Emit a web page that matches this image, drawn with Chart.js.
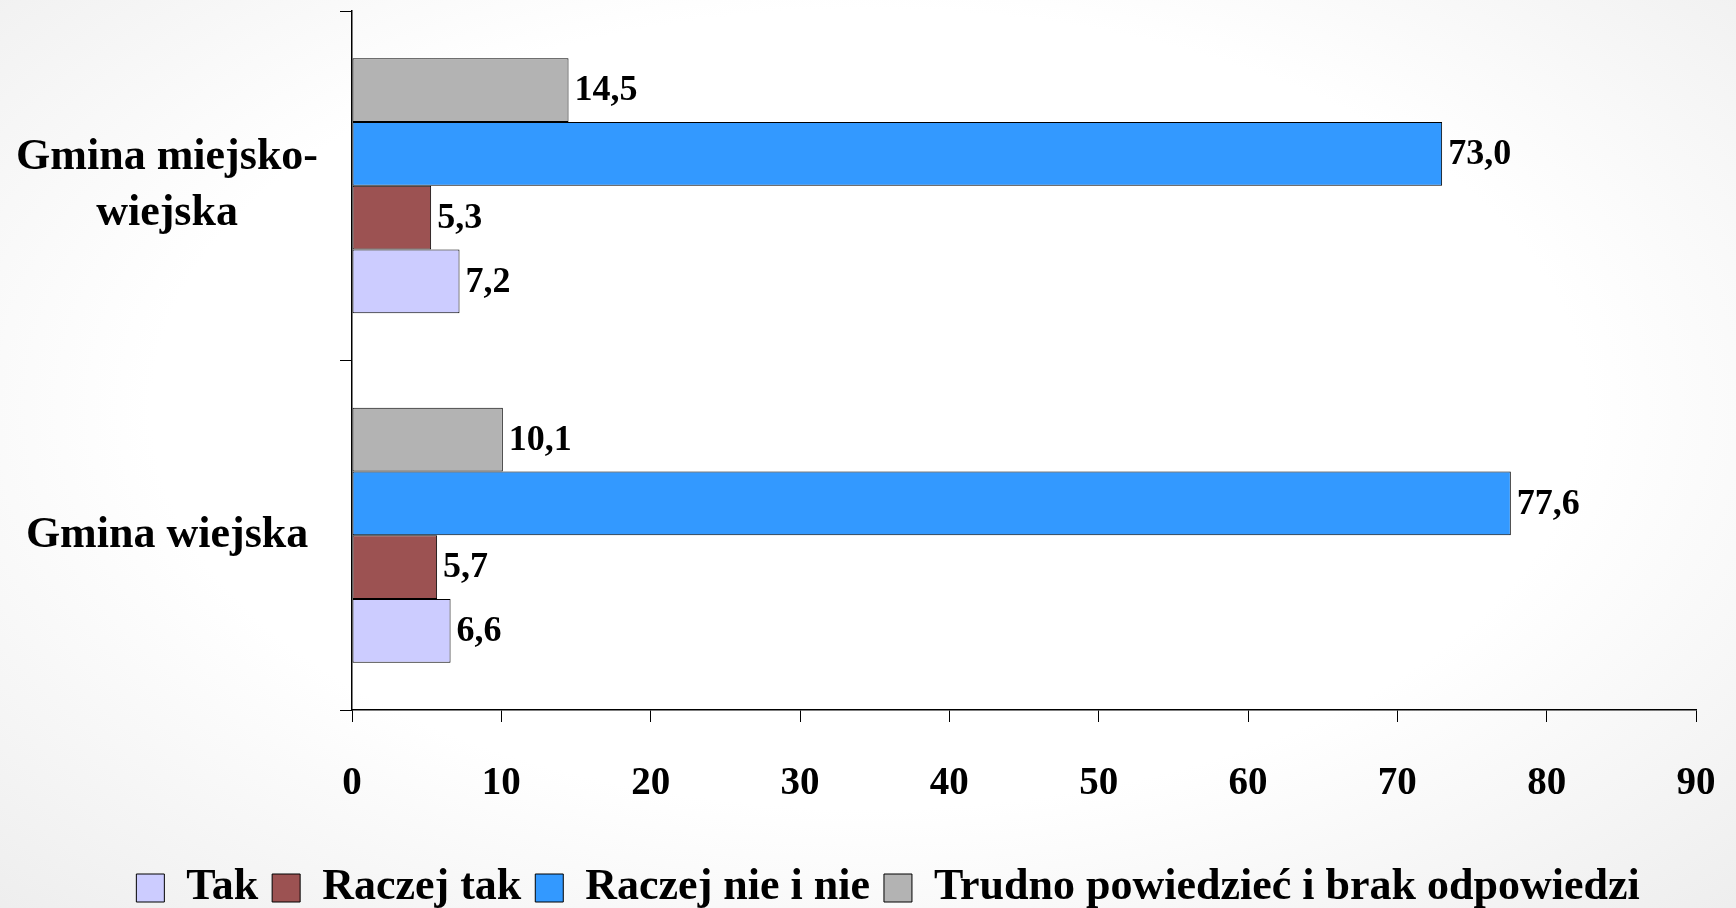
<!DOCTYPE html>
<html>
<head>
<meta charset="utf-8">
<script src="https://cdn.jsdelivr.net/npm/chart.js@4/dist/chart.umd.min.js"></script>
<style>
  html, body { margin: 0; padding: 0; }
  body {
    width: 1736px; height: 908px; overflow: hidden;
    background: radial-gradient(ellipse 75% 80% at 50% 45%, #ffffff 55%, #ececec 100%);
  }
  #wrap { width: 1736px; height: 908px; }
</style>
</head>
<body>
<div id="wrap"><canvas id="chart"></canvas></div>
<script>
// categories (top to bottom)
const categories = [['Gmina miejsko-', 'wiejska'], 'Gmina wiejska'];

// series values, per category
const tak = [7.2, 6.6];
const raczejTak = [5.3, 5.7];
const raczejNie = [73.0, 77.6];
const trudno = [14.5, 10.1];

// x axis ticks
const xMin = 0;
const xMax = 90;
const xStep = 10;

const serif = "'Liberation Serif', 'Times New Roman', serif";

// value labels next to the bar ends, polish decimal comma
const barLabels = {
  id: 'barLabels',
  afterDatasetsDraw(chart) {
    const ctx = chart.ctx;
    ctx.save();
    ctx.font = 'bold 36px ' + serif;
    ctx.fillStyle = '#000';
    ctx.textAlign = 'left';
    ctx.textBaseline = 'middle';
    chart.data.datasets.forEach((ds, i) => {
      const meta = chart.getDatasetMeta(i);
      meta.data.forEach((bar, j) => {
        const txt = ds.data[j].toFixed(1).replace('.', ',');
        ctx.fillText(txt, bar.x + 6, bar.y + 1);
      });
    });
    ctx.restore();
  }
};

// legend sits a bit right and lower than chart.js puts it
const legendShift = {
  id: 'legendShift',
  afterLayout(chart) {
    const lg = chart.legend;
    if (lg) {
      lg.top += 12; lg.bottom += 12;
      lg.left += 40; lg.right += 40;
    }
  }
};

const ctx = document.getElementById('chart').getContext('2d');
new Chart(ctx, {
  type: 'bar',
  data: {
    labels: categories,
    datasets: [
      { label: 'Trudno powiedzieć i brak odpowiedzi', data: trudno, backgroundColor: '#b3b3b3' },
      { label: 'Raczej nie i nie', data: raczejNie, backgroundColor: '#3399ff' },
      { label: 'Raczej tak', data: raczejTak, backgroundColor: '#9c5252' },
      { label: 'Tak', data: tak, backgroundColor: '#ccccff' }
    ].map(d => Object.assign(d, {
      borderColor: '#000',
      borderWidth: 1,
      borderSkipped: false,
      barPercentage: 1,
      categoryPercentage: 0.73
    }))
  },
  options: {
    indexAxis: 'y',
    responsive: true,
    maintainAspectRatio: false,
    animation: false,
    layout: { padding: { top: 11, right: 40, left: 0, bottom: 0 } },
    scales: {
      x: {
        min: xMin,
        max: xMax,
        ticks: {
          stepSize: xStep,
          color: '#000',
          padding: 39,
          font: { family: serif, size: 39, weight: 'bold' }
        },
        grid: { drawOnChartArea: false, color: '#000', tickLength: 12 },
        border: { display: true, color: '#000', width: 1.5 },
        afterFit(scale) {
          scale.height = 130;
          scale.paddingLeft = 0;
          scale.paddingRight = 0;
        }
      },
      y: {
        ticks: {
          color: '#000',
          padding: 22,
          crossAlign: 'center',
          font: { family: serif, size: 44, weight: 'bold', lineHeight: 1.26 }
        },
        grid: { drawOnChartArea: false, color: '#000', tickLength: 12, offset: true },
        border: { display: true, color: '#000', width: 1.5 },
        afterFit(scale) {
          scale.width = 352;
          scale.paddingTop = 0;
          scale.paddingBottom = 0;
        }
      }
    },
    plugins: {
      legend: {
        position: 'bottom',
        reverse: true,
        labels: {
          color: '#000',
          boxWidth: 28,
          boxHeight: 28,
          padding: 14,
          font: { family: serif, size: 44, weight: 'bold' }
        }
      },
      tooltip: { enabled: false }
    }
  },
  plugins: [barLabels, legendShift]
});
</script>
</body>
</html>
